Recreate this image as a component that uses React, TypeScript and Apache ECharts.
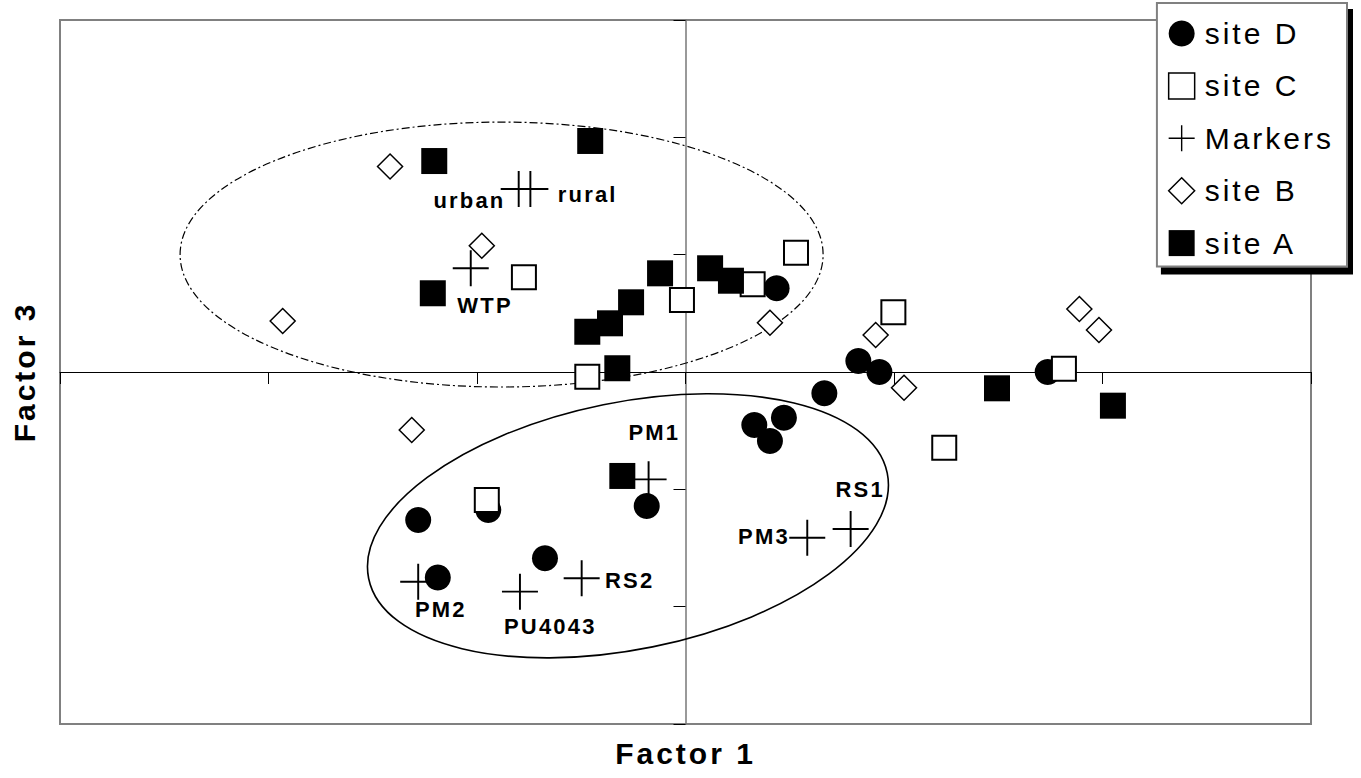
import React, { useEffect, useRef } from 'react';
import * as echarts from 'echarts';

// ---- data (Factor 1, Factor 3) ----
const siteD: number[][] = [
  [0.437, 0.713], [0.829, 0.094], [0.930, 0.0], [0.666, -0.182], [0.330, -0.452],
  [0.472, -0.389], [0.405, -0.588], [1.737, 0.0], [-1.282, -1.261], [-0.946, -1.176],
  [-0.186, -1.142], [-0.674, -1.588], [-1.188, -1.751],
];
const siteC: number[][] = [
  [-0.775, 0.807], [0.530, 1.017], [-0.017, 0.614], [0.322, 0.747], [0.997, 0.509],
  [-0.471, -0.040], [1.815, 0.028], [1.241, -0.645], [-0.953, -1.091],
];
const siteB: number[][] = [
  [-1.417, 1.751], [-0.977, 1.076], [-1.932, 0.435], [0.405, 0.420], [0.912, 0.315],
  [1.048, -0.134], [1.889, 0.537], [1.983, 0.358], [-1.313, -0.494],
];
const siteA: number[][] = [
  [-1.205, 1.798], [-0.457, 1.969], [-1.212, 0.671], [-0.122, 0.841], [-0.261, 0.594],
  [-0.362, 0.415], [-0.471, 0.343], [-0.327, 0.032], [0.118, 0.884], [0.218, 0.778],
  [1.494, -0.139], [2.050, -0.287], [-0.303, -0.886],
];
const markerNames: string[] = ['urban', 'rural', 'WTP', 'PM1', 'PM2', 'PU4043', 'RS2', 'PM3', 'RS1'];
const markerPoints: number[][] = [
  [-0.800, 1.560], [-0.744, 1.560], [-1.030, 0.884], [-0.177, -0.915], [-1.282, -1.787],
  [-0.794, -1.872], [-0.498, -1.758], [0.584, -1.412], [0.792, -1.338],
];
// ellipses: [centerX, centerY, semiAxisA (x units), semiAxisB (y units), rotationDeg, dashed]
const ellipses: number[][] = [
  [-0.882, 1.001, 1.542, 1.129, 0, 1],
  [-0.276, -1.311, 1.269, 1.053, 11.5, 0],
];
const legendOrder: string[] = ['site D', 'site C', 'Markers', 'site B', 'site A'];

// ---- label placement (style, not data) ----
const labelPlacement: Record<string, { align: string; offset: number[] }> = {
  urban: { align: 'right', offset: [-13.2, 11.1] },
  rural: { align: 'left', offset: [27.4, 5.1] },
  WTP: { align: 'left', offset: [-13.4, 37.4] },
  PM1: { align: 'left', offset: [-20.2, -46.9] },
  PM2: { align: 'left', offset: [-3.3, 28.0] },
  PU4043: { align: 'left', offset: [-16, 35.0] },
  RS2: { align: 'left', offset: [23.3, 2.4] },
  PM3: { align: 'right', offset: [-17.3, -1.3] },
  RS1: { align: 'left', offset: [-15.2, -39.3] },
};

const PLUS = 'path://M12.3,0h1.4v26h-1.4z M0,12.3h26v1.4h-26z';
const FONT = 'Liberation Sans';

export default function App() {
  const ref = useRef<HTMLDivElement>(null);
  useEffect(() => {
    if (!ref.current) return;
    const chart = echarts.init(ref.current, null, { renderer: 'svg' });
    const hidden = { show: false };
    const option: any = {
      animation: false,
      textStyle: { fontFamily: FONT },
      grid: {
        left: 60, right: 50, top: 20, bottom: 54, containLabel: false,
        show: true, borderColor: '#808080', borderWidth: 2, backgroundColor: 'transparent',
      },
      xAxis: [
        {
          type: 'value', min: -3, max: 3, interval: 1,
          axisLine: { show: true, onZero: true, onZeroAxisIndex: 0, lineStyle: { color: '#000', width: 1 } },
          axisTick: { show: true, inside: false, length: 12, lineStyle: { color: '#000', width: 1 } },
          axisLabel: hidden, splitLine: hidden,
        },
        {
          type: 'value', min: -3, max: 3, interval: 1, position: 'bottom',
          axisLine: { show: false, onZero: false }, axisTick: hidden, axisLabel: hidden, splitLine: hidden,
          name: 'Factor 1', nameLocation: 'middle', nameGap: 14,
          nameTextStyle: { fontFamily: FONT, fontWeight: 'bold', fontSize: 30, color: '#000' },
        },
      ],
      yAxis: [
        {
          type: 'value', min: -3, max: 3, interval: 1,
          axisLine: { show: true, onZero: true, onZeroAxisIndex: 0, lineStyle: { color: '#777', width: 1.5 } },
          axisTick: { show: true, inside: false, length: 12, lineStyle: { color: '#000', width: 1 } },
          axisLabel: hidden, splitLine: hidden,
        },
        {
          type: 'value', min: -3, max: 3, interval: 1, position: 'left',
          axisLine: { show: false, onZero: false }, axisTick: hidden, axisLabel: hidden, splitLine: hidden,
          name: 'Factor 3', nameLocation: 'middle', nameGap: 21, nameRotate: 90,
          nameTextStyle: { fontFamily: FONT, fontWeight: 'bold', fontSize: 30, color: '#000' },
        },
      ],
      legend: {
        orient: 'vertical', right: 14, top: 3,
        itemWidth: 26, itemHeight: 26, itemGap: 22.4,
        padding: [15.5, 34, 8.4, 11],
        backgroundColor: '#fff', borderColor: '#808080', borderWidth: 2,
        shadowColor: '#000', shadowBlur: 0, shadowOffsetX: 5, shadowOffsetY: 7,
        selectedMode: false,
        textStyle: { fontFamily: FONT, fontSize: 30, color: '#000', padding: [0, 0, 0, 5] },
        data: [
          { name: legendOrder[0], icon: 'circle', itemStyle: { color: '#000', borderWidth: 0 } },
          { name: legendOrder[1], icon: 'rect', itemStyle: { color: '#fff', borderColor: '#000', borderWidth: 1.5 } },
          { name: legendOrder[2], icon: PLUS, itemStyle: { color: '#000', borderWidth: 0 } },
          { name: legendOrder[3], icon: 'diamond', itemStyle: { color: '#fff', borderColor: '#000', borderWidth: 1.5 } },
          { name: legendOrder[4], icon: 'rect', itemStyle: { color: '#000', borderWidth: 0 } },
        ],
      },
      series: [
        {
          name: 'site D', type: 'scatter', symbol: 'circle', symbolSize: 26, silent: true,
          itemStyle: { color: '#000', opacity: 1 }, data: siteD,
        },
        {
          name: 'site C', type: 'scatter', symbol: 'rect', symbolSize: 24, silent: true,
          itemStyle: { color: '#fff', borderColor: '#000', borderWidth: 2, opacity: 1 }, data: siteC,
        },
        {
          name: 'Markers', type: 'scatter', symbol: PLUS, symbolSize: 36, silent: true,
          itemStyle: { color: '#000', opacity: 1 },
          data: markerPoints.map((p, i) => {
            const nm = markerNames[i];
            const pl = labelPlacement[nm];
            return {
              name: nm, value: p,
              label: {
                show: true, position: 'inside', formatter: nm, align: pl.align, verticalAlign: 'middle',
                offset: pl.offset, fontFamily: FONT, fontWeight: 'bold', fontSize: 22, color: '#000',
              },
            };
          }),
        },
        {
          name: 'site B', type: 'scatter', symbol: 'diamond', symbolSize: 25, silent: true,
          itemStyle: { color: '#fff', borderColor: '#000', borderWidth: 1.5, opacity: 1 }, data: siteB,
        },
        {
          name: 'site A', type: 'scatter', symbol: 'rect', symbolSize: 26, silent: true,
          itemStyle: { color: '#000', opacity: 1 }, data: siteA,
        },
        {
          name: 'ellipses', type: 'custom', coordinateSystem: 'cartesian2d', silent: true, clip: false,
          encode: { x: 0, y: 1 },
          data: ellipses,
          renderItem: (params: any, api: any) => {
            const c = api.coord([api.value(0), api.value(1)]);
            const s = api.size([1, 1]);
            const dashed = api.value(5) === 1;
            return {
              type: 'ellipse',
              x: c[0], y: c[1],
              rotation: (api.value(4) * Math.PI) / 180,
              shape: { cx: 0, cy: 0, rx: api.value(2) * s[0], ry: api.value(3) * s[1] },
              style: {
                fill: 'none', stroke: '#000', lineWidth: dashed ? 1.2 : 1.6,
                lineDash: dashed ? [8, 3, 2, 3] : null,
              },
            };
          },
        },
      ],
    };
    chart.setOption(option);
    return () => chart.dispose();
  }, []);
  return (
    <>
      <style>{'.chart-root text { letter-spacing: 0.1em; }'}</style>
      <div
        ref={ref}
        className="chart-root"
        style={{ position: 'fixed', left: 0, top: 0, width: 1361, height: 778, background: '#fff' }}
      />
    </>
  );
}
